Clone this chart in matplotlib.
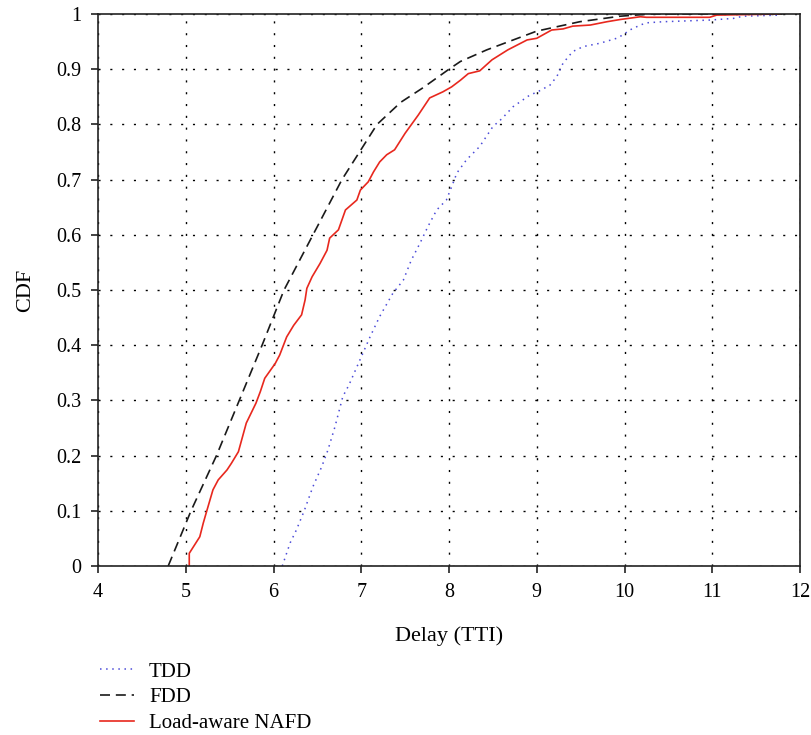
import numpy as np
import matplotlib.pyplot as plt

# -----------------------------
# Dados (CDF do atraso)
# -----------------------------
fdd_x = [4.80, 5.06, 5.35, 5.61, 5.87, 6.12, 6.45, 6.78, 7.02, 7.18, 7.45, 7.70,
         8.00, 8.13, 8.43, 9.00, 9.49, 9.95, 10.30, 11.80]
fdd_y = [0.0, 0.10, 0.20, 0.30, 0.40, 0.50, 0.60, 0.70, 0.76, 0.80, 0.84, 0.866,
         0.90, 0.914, 0.935, 0.969, 0.986, 0.996, 1.0, 1.0]

nafd_x = [5.04, 5.04, 5.16, 5.20, 5.24, 5.31, 5.37, 5.47, 5.52, 5.60, 5.69, 5.80,
          5.85, 5.90, 6.02, 6.07, 6.15, 6.23, 6.32, 6.36, 6.38, 6.44, 6.53, 6.61,
          6.64, 6.74, 6.82, 6.95, 6.99, 7.08, 7.14, 7.21, 7.29, 7.38, 7.50, 7.65,
          7.78, 7.93, 8.03, 8.13, 8.22, 8.35, 8.49, 8.67, 8.89, 9.00, 9.17, 9.30,
          9.41, 9.61, 9.80, 9.95, 10.18, 10.25, 10.97, 11.05, 11.77]
nafd_y = [0.0, 0.023, 0.053, 0.078, 0.10, 0.138, 0.156, 0.174, 0.186, 0.207, 0.259, 0.295,
          0.316, 0.34, 0.367, 0.382, 0.415, 0.436, 0.455, 0.482, 0.503, 0.524, 0.548, 0.572,
          0.594, 0.609, 0.645, 0.663, 0.681, 0.696, 0.714, 0.732, 0.745, 0.754, 0.784, 0.817,
          0.848, 0.859, 0.868, 0.880, 0.892, 0.897, 0.917, 0.935, 0.953, 0.956, 0.971, 0.973,
          0.978, 0.980, 0.986, 0.990, 0.995, 0.994, 0.994, 0.998, 1.0]

tdd_x = [6.10, 6.19, 6.26, 6.35, 6.45, 6.55, 6.62, 6.70, 6.79, 6.86, 7.02, 7.10,
         7.21, 7.36, 7.48, 7.57, 7.67, 7.76, 7.86, 7.97, 8.03, 8.09, 8.20, 8.35,
         8.50, 8.60, 8.73, 8.92, 9.01, 9.15, 9.23, 9.30, 9.41, 9.53, 9.72, 9.91,
         9.98, 10.06, 10.18, 10.25, 10.44, 10.97, 11.24, 11.35, 11.77]
tdd_y = [0.0, 0.042, 0.065, 0.10, 0.144, 0.18, 0.21, 0.252, 0.307, 0.328, 0.386, 0.415,
         0.452, 0.494, 0.518, 0.554, 0.585, 0.615, 0.645, 0.663, 0.687, 0.712, 0.736, 0.76,
         0.796, 0.81, 0.832, 0.853, 0.859, 0.871, 0.887, 0.911, 0.932, 0.941, 0.947, 0.956,
         0.962, 0.971, 0.98, 0.984, 0.986, 0.989, 0.992, 0.996, 0.998]

x_ticks = [4, 5, 6, 7, 8, 9, 10, 11, 12]
y_ticks = [0, 0.1, 0.2, 0.3, 0.4, 0.5, 0.6, 0.7, 0.8, 0.9, 1]
y_labels = ["0", "0.1", "0.2", "0.3", "0.4", "0.5", "0.6", "0.7", "0.8", "0.9", "1"]

plt.rcParams["font.family"] = ["Liberation Serif", "DejaVu Serif"]
plt.rcParams["font.size"] = 14

fig = plt.figure(figsize=(8.11, 7.35), dpi=100)
ax = fig.add_axes([98 / 811, 1 - 566 / 735, (800 - 98) / 811, (566 - 14) / 735])

l1, = ax.plot(tdd_x, tdd_y, color="#4b4bd8", linestyle=(0, (1, 3)), linewidth=1.1, label="TDD")
l2, = ax.plot(fdd_x, fdd_y, color="#1a1a1a", linestyle=(0, (6, 3.5)), linewidth=1.2, label="FDD")
l3, = ax.plot(nafd_x, nafd_y, color="#e8281e", linestyle="-", linewidth=1.2, label="Load-aware NAFD")

ax.set_xlim(4, 12)
ax.set_ylim(0, 1)
ax.set_xticks(x_ticks)
ax.set_yticks(y_ticks)
ax.set_yticklabels(y_labels)
ax.tick_params(direction="out", length=5, width=1.2, color="#222222", labelsize=14.5, pad=7)
ax.grid(True, color="black", linestyle=(0, (1.5, 7)), linewidth=1.0)
for sp in ax.spines.values():
    sp.set_linewidth(1.2)
    sp.set_color("#222222")

ax.set_xlabel("Delay (TTI)", fontsize=16, labelpad=18)
ax.set_ylabel("CDF", fontsize=16, labelpad=15)

fig.legend(handles=[l1, l2, l3], loc="upper left", bbox_to_anchor=(100 / 811, 1 - 662 / 735),
           frameon=False, fontsize=15, handlelength=1.65, handletextpad=0.7, labelspacing=0.3,
           borderaxespad=0, borderpad=0)

fig.savefig("out.png", dpi=100)
